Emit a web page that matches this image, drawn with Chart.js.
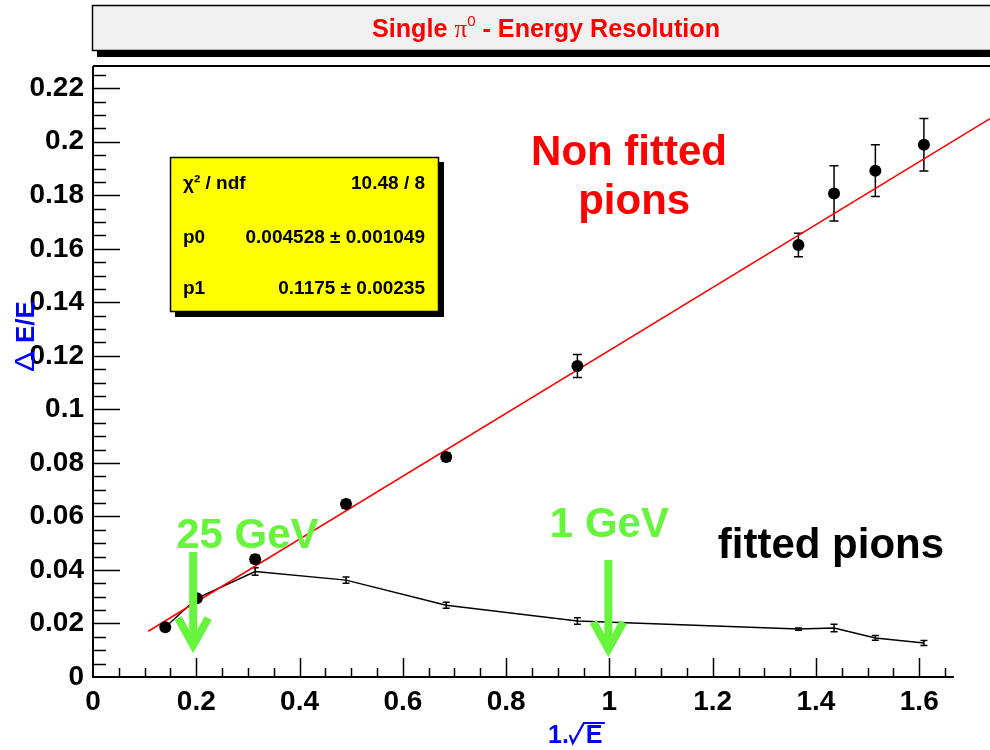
<!DOCTYPE html>
<html>
<head>
<meta charset="UTF-8">
<title>Single pi0 - Energy Resolution</title>
<script src="https://cdn.jsdelivr.net/npm/chart.js"></script>
<style>
  body { margin: 0; background: #fff; }
  #wrap { width: 990px; height: 750px; }
</style>
</head>
<body>
<div id="wrap"><canvas id="chart" width="990" height="750"></canvas></div>
<script>
// x = 1/sqrt(E)
const invSqrtE = [0.140, 0.201, 0.314, 0.490, 0.684, 0.938, 1.366, 1.435, 1.515, 1.609];
// non fitted pions
const resNonFitted = [0.0186, 0.0294, 0.0440, 0.0646, 0.0822, 0.1162, 0.1614, 0.1807, 0.1892, 0.1989];
const errNonFitted = [0.0010, 0.0010, 0.0015, 0.0015, 0.0015, 0.0043, 0.0044, 0.0103, 0.0097, 0.0098];
// fitted pions
const resFitted = [0.0186, 0.0294, 0.0394, 0.0362, 0.0268, 0.0209, 0.0179, 0.0183, 0.0146, 0.0127];
const errFitted = [0.0010, 0.0010, 0.0014, 0.0012, 0.0011, 0.0012, 0.0004, 0.0014, 0.0009, 0.0009];
// straight line fit, end points as drawn
const fitX = [0.107, 1.737];
const fitY = [0.0171, 0.2086];

const xTicks = [0, 0.2, 0.4, 0.6, 0.8, 1, 1.2, 1.4, 1.6];
const yTicks = [0, 0.02, 0.04, 0.06, 0.08, 0.1, 0.12, 0.14, 0.16, 0.18, 0.2, 0.22];

const statsRows = [
  ['χ² / ndf', '10.48 / 8'],
  ['p0', '0.004528 ± 0.001049'],
  ['p1', '0.1175 ± 0.00235']
];

const FONT = '"Liberation Sans", Arial, Helvetica, sans-serif';
const GREEN = '#66f43c';

function pts(xs, ys) {
  return xs.map((x, i) => ({ x: x, y: ys[i] }));
}

// ROOT style frame, inside ticks, title box, stats box and labels
const decor = {
  id: 'decor',
  beforeDraw(chart) {
    const ctx = chart.ctx;
    ctx.save();
    ctx.fillStyle = '#fff';
    ctx.fillRect(0, 0, chart.width, chart.height);
    ctx.restore();
  },
  beforeDatasetsDraw(chart) {
    // error bars
    const ctx = chart.ctx;
    const xs = chart.scales.x, ys = chart.scales.y;
    ctx.save();
    ctx.strokeStyle = '#000';
    ctx.lineWidth = 1.5;
    const sets = [[resNonFitted, errNonFitted, 4.5], [resFitted, errFitted, 3.5]];
    sets.forEach(([vals, errs, cap]) => {
      invSqrtE.forEach((x, i) => {
        const px = xs.getPixelForValue(x);
        const lo = ys.getPixelForValue(vals[i] - errs[i]);
        const hi = ys.getPixelForValue(vals[i] + errs[i]);
        ctx.beginPath();
        ctx.moveTo(px, lo); ctx.lineTo(px, hi);
        ctx.moveTo(px - cap, lo); ctx.lineTo(px + cap, lo);
        ctx.moveTo(px - cap, hi); ctx.lineTo(px + cap, hi);
        ctx.stroke();
      });
    });
    ctx.restore();
  },
  afterDraw(chart) {
    const ctx = chart.ctx;
    const xs = chart.scales.x, ys = chart.scales.y;
    const a = chart.chartArea;
    ctx.save();

    // axes
    ctx.strokeStyle = '#000';
    ctx.lineWidth = 2;
    const xEnd = xs.getPixelForValue(1.667);
    ctx.beginPath();
    ctx.moveTo(a.left, a.top); ctx.lineTo(a.left, a.bottom); ctx.lineTo(xEnd, a.bottom);
    ctx.moveTo(a.left, a.top); ctx.lineTo(chart.width, a.top);
    ctx.stroke();

    ctx.lineWidth = 1.5;
    ctx.beginPath();
    for (let k = 1; k * 0.005 < ys.max; k++) {
      const py = Math.round(ys.getPixelForValue(k * 0.005)) + 0.5;
      const len = k % 4 === 0 ? 27 : 13;
      ctx.moveTo(a.left, py); ctx.lineTo(a.left + len, py);
    }
    for (let k = 1; k * 0.05 <= 1.667; k++) {
      const px = Math.round(xs.getPixelForValue(k * 0.05)) + 0.5;
      const len = k % 4 === 0 ? 19 : 9;
      ctx.moveTo(px, a.bottom); ctx.lineTo(px, a.bottom - len);
    }
    ctx.stroke();

    // title box
    ctx.fillStyle = '#000';
    ctx.fillRect(97, 51, chart.width, 6);
    ctx.fillStyle = '#f0f0f0';
    ctx.fillRect(92, 5, chart.width, 46);
    ctx.strokeStyle = '#000';
    ctx.lineWidth = 1.5;
    ctx.strokeRect(92.5, 5.5, chart.width, 45);

    // title text, condensed
    ctx.fillStyle = '#ff0000';
    ctx.textBaseline = 'alphabetic';
    ctx.textAlign = 'left';
    const parts = [
      ['Single ', 'bold 25px ' + FONT, 0],
      ['π', '25px "Liberation Serif", serif', 0],
      ['0', '15px ' + FONT, -11],
      [' - Energy Resolution', 'bold 25px ' + FONT, 0]
    ];
    let tw = 0;
    parts.forEach(p => { ctx.font = p[1]; tw += ctx.measureText(p[0]).width; });
    const sx = 348 / tw;
    ctx.save();
    ctx.translate(372, 37);
    ctx.scale(sx, 1);
    let cx = 0;
    parts.forEach(p => {
      ctx.font = p[1];
      ctx.fillText(p[0], cx, p[2]);
      cx += ctx.measureText(p[0]).width;
    });
    ctx.restore();

    // stats box
    ctx.fillStyle = '#000';
    ctx.fillRect(175, 162, 269, 155);
    ctx.fillStyle = '#ffff00';
    ctx.fillRect(170, 157, 269, 155);
    ctx.lineWidth = 1.5;
    ctx.strokeRect(170.5, 157.5, 268, 154);
    ctx.fillStyle = '#000';
    ctx.font = 'bold 19px ' + FONT;
    const rowY = [189, 243, 294];
    statsRows.forEach((r, i) => {
      ctx.textAlign = 'left';
      ctx.fillText(r[0], 183, rowY[i]);
      ctx.textAlign = 'right';
      ctx.fillText(r[1], 425, rowY[i]);
    });

    // x axis title "1./sqrt(E)" with drawn root sign
    ctx.fillStyle = '#0000ff';
    ctx.strokeStyle = '#0000ff';
    ctx.textAlign = 'left';
    ctx.font = 'bold 25px ' + FONT;
    ctx.fillText('1.', 548, 743);
    const w1 = ctx.measureText('1.').width;
    const rx = 548 + w1 + 1;
    ctx.lineWidth = 2.2;
    ctx.lineJoin = 'miter';
    ctx.beginPath();
    ctx.moveTo(rx, 735);
    ctx.lineTo(rx + 3, 743);
    ctx.lineTo(rx + 14, 723);
    ctx.lineTo(rx + 35, 723);
    ctx.stroke();
    ctx.fillText('E', rx + 16, 743);

    // y axis title
    ctx.save();
    ctx.translate(34, 333);
    ctx.rotate(-Math.PI / 2);
    ctx.font = '27px ' + FONT;
    const dW = ctx.measureText('Δ').width;
    ctx.save();
    ctx.translate(-39, 0);
    ctx.scale(21 / dW, 1);
    ctx.fillText('Δ', 0, 0);
    ctx.restore();
    ctx.font = 'bold 26px ' + FONT;
    ctx.fillText('E/E', -10, 0);
    ctx.restore();

    // annotations
    const notes = [
      ['Non fitted', 1.038, 0.1913, '#ff0000'],
      ['pions', 1.048, 0.1730, '#ff0000'],
      ['fitted pions', 1.429, 0.0445, '#000'],
      ['25 GeV', 0.299, 0.0482, GREEN],
      ['1 GeV', 1.0, 0.0523, GREEN]
    ];
    ctx.font = 'bold 42px ' + FONT;
    ctx.textAlign = 'center';
    notes.forEach(n => {
      ctx.fillStyle = n[3];
      ctx.fillText(n[0], xs.getPixelForValue(n[1]), ys.getPixelForValue(n[2]));
    });

    // arrows
    const arrows = [[0.194, 0.0467, 0.0108], [0.998, 0.0437, 0.0093]];
    ctx.strokeStyle = GREEN;
    ctx.lineWidth = 8;
    ctx.lineCap = 'butt';
    arrows.forEach(ar => {
      const px = xs.getPixelForValue(ar[0]);
      const top = ys.getPixelForValue(ar[1]);
      const tip = ys.getPixelForValue(ar[2]);
      ctx.beginPath();
      ctx.moveTo(px, top); ctx.lineTo(px, tip - 4);
      ctx.stroke();
      ctx.beginPath();
      ctx.moveTo(px - 15, tip - 30); ctx.lineTo(px, tip - 3); ctx.lineTo(px + 15, tip - 30);
      ctx.stroke();
    });

    ctx.restore();
  }
};

new Chart(document.getElementById('chart'), {
  type: 'scatter',
  data: {
    datasets: [
      {
        label: 'non fitted pions',
        data: pts(invSqrtE, resNonFitted),
        showLine: false,
        pointRadius: 6,
        pointBackgroundColor: '#000',
        pointBorderColor: '#000',
        pointBorderWidth: 0,
        order: 0
      },
      {
        label: 'fit',
        data: pts(fitX, fitY),
        showLine: true,
        borderColor: '#ff0000',
        borderWidth: 1.5,
        pointRadius: 0,
        order: 1
      },
      {
        label: 'fitted pions',
        data: pts(invSqrtE, resFitted),
        showLine: true,
        borderColor: '#000',
        borderWidth: 1.5,
        pointRadius: 0,
        order: 2
      }
    ]
  },
  options: {
    responsive: false,
    animation: false,
    layout: { autoPadding: false, padding: { top: 66, left: 0, right: 0, bottom: 0 } },
    plugins: { legend: { display: false }, tooltip: { enabled: false } },
    scales: {
      x: {
        type: 'linear',
        min: 0,
        max: 1.737,
        grid: { display: false, drawTicks: false },
        border: { display: false },
        afterBuildTicks: s => { s.ticks = xTicks.map(v => ({ value: v })); },
        afterFit: s => { s.height = 73; s.paddingLeft = 0; s.paddingRight = 0; },
        ticks: {
          padding: 8,
          color: '#000',
          font: { family: FONT, size: 28, weight: 'bold' },
          callback: v => String(Number(v.toFixed(2)))
        }
      },
      y: {
        type: 'linear',
        min: 0,
        max: 0.2283,
        grid: { display: false, drawTicks: false },
        border: { display: false },
        afterBuildTicks: s => { s.ticks = yTicks.map(v => ({ value: v })); },
        afterFit: s => { s.width = 93; s.paddingTop = 0; s.paddingBottom = 0; },
        ticks: {
          padding: 9,
          color: '#000',
          font: { family: FONT, size: 28, weight: 'bold' },
          callback: v => String(Number(v.toFixed(2)))
        }
      }
    }
  },
  plugins: [decor]
});
</script>
</body>
</html>
